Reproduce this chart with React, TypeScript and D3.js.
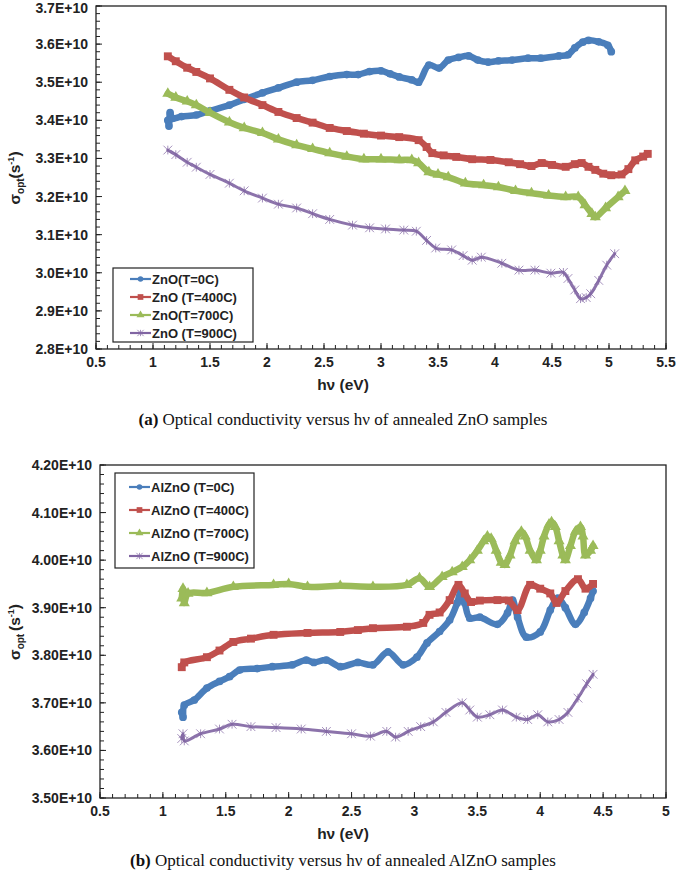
import React from 'react';
import * as d3 from 'd3';

// ---------- Data (values in units of 1E+10 s^-1) ----------
const znoT0: [number, number][] = [
  [1.13, 3.40], [1.14, 3.385], [1.15, 3.42], [1.17, 3.405], [1.25, 3.41], [1.38, 3.414], [1.5, 3.425],
  [1.67, 3.44], [1.8, 3.455], [1.96, 3.472], [2.1, 3.485], [2.26, 3.50], [2.4, 3.505], [2.55, 3.515],
  [2.7, 3.52], [2.8, 3.52], [2.9, 3.528], [3.0, 3.53], [3.08, 3.522], [3.16, 3.514], [3.27, 3.506],
  [3.33, 3.50], [3.42, 3.545], [3.51, 3.537], [3.59, 3.558], [3.68, 3.565], [3.77, 3.569], [3.85, 3.558],
  [3.94, 3.553], [4.03, 3.556], [4.15, 3.558], [4.29, 3.563], [4.4, 3.563], [4.56, 3.569], [4.64, 3.572],
  [4.7, 3.59], [4.77, 3.605], [4.82, 3.61], [4.91, 3.606], [4.99, 3.597], [5.02, 3.58],
];
const znoT400: [number, number][] = [
  [1.13, 3.568], [1.2, 3.555], [1.3, 3.538], [1.38, 3.527], [1.5, 3.51], [1.67, 3.48], [1.8, 3.46],
  [1.96, 3.44], [2.1, 3.422], [2.26, 3.406], [2.4, 3.394], [2.55, 3.38], [2.7, 3.372], [2.85, 3.365],
  [3.0, 3.36], [3.16, 3.356], [3.33, 3.348], [3.4, 3.33], [3.45, 3.314], [3.55, 3.308], [3.66, 3.304],
  [3.8, 3.298], [3.96, 3.296], [4.12, 3.29], [4.22, 3.285], [4.32, 3.28], [4.41, 3.288], [4.5, 3.283],
  [4.62, 3.278], [4.7, 3.285], [4.76, 3.288], [4.82, 3.278], [4.88, 3.27], [4.95, 3.26], [5.02, 3.256],
  [5.11, 3.258], [5.17, 3.272], [5.23, 3.295], [5.3, 3.305], [5.34, 3.312],
];
const znoT700: [number, number][] = [
  [1.13, 3.47], [1.2, 3.46], [1.3, 3.45], [1.38, 3.44], [1.5, 3.42], [1.67, 3.395], [1.8, 3.38],
  [1.96, 3.367], [2.1, 3.35], [2.26, 3.335], [2.4, 3.325], [2.55, 3.314], [2.7, 3.305], [2.85, 3.298],
  [3.0, 3.298], [3.16, 3.296], [3.27, 3.296], [3.33, 3.288], [3.42, 3.264], [3.5, 3.258], [3.59, 3.251],
  [3.74, 3.235], [3.9, 3.23], [4.03, 3.225], [4.18, 3.215], [4.32, 3.209], [4.47, 3.203], [4.62, 3.199],
  [4.73, 3.199], [4.79, 3.178], [4.85, 3.155], [4.88, 3.146], [4.97, 3.17], [5.08, 3.199], [5.14, 3.215],
];
const znoT900: [number, number][] = [
  [1.13, 3.322], [1.2, 3.31], [1.3, 3.29], [1.38, 3.277], [1.5, 3.258], [1.67, 3.235], [1.8, 3.215],
  [1.96, 3.196], [2.1, 3.18], [2.26, 3.17], [2.4, 3.155], [2.55, 3.14], [2.75, 3.125], [2.9, 3.118],
  [3.04, 3.115], [3.2, 3.112], [3.31, 3.109], [3.4, 3.085], [3.48, 3.065], [3.62, 3.06], [3.72, 3.045],
  [3.8, 3.033], [3.88, 3.041], [4.06, 3.025], [4.21, 3.007], [4.35, 3.007], [4.49, 2.999], [4.6, 3.001],
  [4.64, 2.985], [4.7, 2.955], [4.75, 2.932], [4.8, 2.935], [4.84, 2.945], [4.91, 2.98], [4.98, 3.02],
  [5.05, 3.05],
];

const alznoT0: [number, number][] = [
  [1.15, 3.68], [1.16, 3.67], [1.17, 3.695], [1.25, 3.706], [1.35, 3.731], [1.45, 3.745], [1.53, 3.755],
  [1.61, 3.769], [1.75, 3.772], [1.87, 3.776], [2.03, 3.78], [2.14, 3.79], [2.2, 3.785], [2.3, 3.79],
  [2.41, 3.776], [2.55, 3.785], [2.67, 3.78], [2.79, 3.807], [2.91, 3.78], [3.02, 3.796], [3.1, 3.826],
  [3.2, 3.85], [3.28, 3.874], [3.34, 3.91], [3.37, 3.935], [3.4, 3.91], [3.44, 3.878], [3.52, 3.88],
  [3.66, 3.865], [3.74, 3.889], [3.78, 3.916], [3.82, 3.88], [3.89, 3.838], [4.0, 3.849], [4.08, 3.895],
  [4.14, 3.92], [4.2, 3.90], [4.28, 3.865], [4.35, 3.89], [4.4, 3.92], [4.42, 3.935],
];
const alznoT400: [number, number][] = [
  [1.15, 3.775], [1.17, 3.785], [1.35, 3.796], [1.45, 3.81], [1.56, 3.828], [1.7, 3.835], [1.88, 3.843],
  [2.15, 3.847], [2.41, 3.849], [2.55, 3.853], [2.67, 3.857], [2.94, 3.86], [3.07, 3.868], [3.12, 3.885],
  [3.2, 3.89], [3.28, 3.916], [3.35, 3.948], [3.4, 3.93], [3.45, 3.912], [3.52, 3.915], [3.66, 3.916],
  [3.75, 3.915], [3.82, 3.895], [3.92, 3.948], [4.0, 3.94], [4.08, 3.93], [4.13, 3.91], [4.2, 3.935],
  [4.3, 3.96], [4.36, 3.94], [4.42, 3.95],
];
const alznoT700: [number, number][] = [
  [1.15, 3.92], [1.16, 3.94], [1.17, 3.91], [1.2, 3.93], [1.35, 3.931], [1.56, 3.944], [1.88, 3.948],
  [2.0, 3.95], [2.15, 3.944], [2.41, 3.946], [2.67, 3.944], [2.94, 3.948], [3.04, 3.962], [3.12, 3.944],
  [3.22, 3.965], [3.3, 3.975], [3.38, 3.986], [3.44, 4.0], [3.5, 4.02], [3.55, 4.04], [3.58, 4.05],
  [3.61, 4.045], [3.65, 4.02], [3.69, 3.995], [3.72, 3.99], [3.76, 4.01], [3.8, 4.04], [3.85, 4.06],
  [3.88, 4.05], [3.92, 4.02], [3.97, 4.0], [4.0, 4.02], [4.03, 4.05], [4.07, 4.075], [4.09, 4.08],
  [4.12, 4.07], [4.15, 4.04], [4.18, 4.01], [4.2, 4.0], [4.24, 4.03], [4.28, 4.06], [4.32, 4.07],
  [4.34, 4.05], [4.36, 4.01], [4.4, 4.02], [4.42, 4.03],
];
const alznoT900: [number, number][] = [
  [1.15, 3.625], [1.16, 3.635], [1.17, 3.62], [1.3, 3.635], [1.45, 3.645], [1.55, 3.655], [1.7, 3.65],
  [1.9, 3.648], [2.1, 3.645], [2.3, 3.64], [2.5, 3.635], [2.65, 3.63], [2.78, 3.64], [2.85, 3.628],
  [2.95, 3.64], [3.05, 3.65], [3.15, 3.66], [3.25, 3.68], [3.38, 3.70], [3.44, 3.685], [3.5, 3.67],
  [3.6, 3.675], [3.7, 3.685], [3.81, 3.67], [3.9, 3.665], [3.98, 3.675], [4.06, 3.66], [4.15, 3.665],
  [4.22, 3.68], [4.3, 3.71], [4.37, 3.74], [4.42, 3.76],
];

const topXTicks = [0.5, 1, 1.5, 2, 2.5, 3, 3.5, 4, 4.5, 5, 5.5];
const topYTicks = [2.8, 2.9, 3.0, 3.1, 3.2, 3.3, 3.4, 3.5, 3.6, 3.7];
const botXTicks = [0.5, 1, 1.5, 2, 2.5, 3, 3.5, 4, 4.5, 5];
const botYTicks = [3.5, 3.6, 3.7, 3.8, 3.9, 4.0, 4.1, 4.2];

const topNames = ['ZnO(T=0C)', 'ZnO (T=400C)', 'ZnO(T=700C)', 'ZnO (T=900C)'];
const botNames = ['AlZnO (T=0C)', 'AlZnO (T=400C)', 'AlZnO (T=700C)', 'AlZnO (T=900C)'];

const COLORS = ['#4A7EBB', '#C0504D', '#9BBB59', '#8064A2'];
const MARKERS = ['circle', 'square', 'triangle', 'star'];

const FONT = "'Liberation Sans', Arial, sans-serif";

function Marker({ kind, x, y, color, s = 1 }: { kind: string; x: number; y: number; color: string; s?: number }) {
  if (kind === 'star') {
    const r = 3.5 * s;
    return (
      <g stroke={color} strokeWidth={1} opacity={0.7}>
        <line x1={x - r} y1={y - r} x2={x + r} y2={y + r} />
        <line x1={x - r} y1={y + r} x2={x + r} y2={y - r} />
        <line x1={x} y1={y - r} x2={x} y2={y + r} />
      </g>
    );
  }
  const type = kind === 'circle' ? d3.symbolCircle : kind === 'square' ? d3.symbolSquare : d3.symbolTriangle;
  const size = kind === 'circle' ? 30 : kind === 'square' ? 40 : 34;
  const p = d3.symbol().type(type).size(size * s * s)();
  return <path d={p || ''} transform={`translate(${x},${y})`} fill={color} />;
}

interface PanelProps {
  series: [number, number][][];
  names: string[];
  xDomain: [number, number];
  yDomain: [number, number];
  left: number; right: number; top: number; bottom: number;
  xTicks: number[]; yTicks: number[];
  yFmt: (v: number) => string;
  legend: { x: number; y: number; w: number; h: number; rowY: number[]; lineX0: number; lineX1: number };
  titleY: number;
  yTitleCy: number;
  opt: string;
}

function Panel(p: PanelProps) {
  const x = d3.scaleLinear().domain(p.xDomain).range([p.left, p.right]);
  const y = d3.scaleLinear().domain(p.yDomain).range([p.bottom, p.top]);
  const line = d3.line<[number, number]>().x(d => x(d[0])).y(d => y(d[1])).curve(d3.curveCatmullRom.alpha(0.5));
  const xMinor = d3.range(p.xDomain[0], p.xDomain[1] + 1e-9, 0.1);
  const yMinor = d3.range(p.yDomain[0], p.yDomain[1] + 1e-9, 0.02);
  return (
    <g>
      {/* data */}
      {p.series.map((s, i) => (
        <g key={i}>
          <path d={line(s) || ''} fill="none" stroke={COLORS[i]} strokeWidth={i === 3 ? 3 : 6.5}
            strokeLinejoin="round" strokeLinecap="round" opacity={i === 3 ? 0.9 : 1} />
          {s.map((d, j) => (
            <Marker key={j} kind={MARKERS[i]} x={x(d[0])} y={y(d[1])} color={COLORS[i]} s={1.25} />
          ))}
        </g>
      ))}
      {/* frame */}
      <rect x={p.left} y={p.top} width={p.right - p.left} height={p.bottom - p.top} fill="none" stroke="#222" strokeWidth={1.3} />
      {/* minor ticks */}
      {xMinor.map((t, i) => (
        <line key={'xm' + i} x1={x(t)} x2={x(t)} y1={p.bottom} y2={p.bottom - 4} stroke="#222" strokeWidth={1} />
      ))}
      {yMinor.map((t, i) => (
        <line key={'ym' + i} x1={p.left} x2={p.left + 4} y1={y(t)} y2={y(t)} stroke="#222" strokeWidth={1} />
      ))}
      {/* major tick labels */}
      {p.xTicks.map((t, i) => (
        <g key={'xt' + i}>
          <line x1={x(t)} x2={x(t)} y1={p.bottom} y2={p.bottom - 6} stroke="#222" strokeWidth={1} />
          <text x={x(t)} y={p.bottom + 18} textAnchor="middle" fontFamily={FONT} fontWeight="bold" fontSize={14} fill="#222">
            {String(t)}
          </text>
        </g>
      ))}
      {p.yTicks.map((t, i) => (
        <g key={'yt' + i}>
          <line x1={p.left} x2={p.left + 6} y1={y(t)} y2={y(t)} stroke="#222" strokeWidth={1} />
          <text x={p.left - 8} y={Math.max(y(t) + 5, 12.5)} textAnchor="end" fontFamily={FONT} fontWeight="bold" fontSize={14} fill="#222">
            {p.yFmt(t)}
          </text>
        </g>
      ))}
      {/* x title */}
      <text x={343} y={p.titleY} textAnchor="middle" fontFamily={FONT} fontWeight="bold" fontSize={15.5} fill="#222">
        hν (eV)
      </text>
      {/* y title */}
      <text transform={`translate(20,${p.yTitleCy}) rotate(-90)`} textAnchor="middle" fontFamily={FONT} fontWeight="bold" fontSize={15.5} fill="#222">
        σ<tspan fontSize={10} dy={4}>{p.opt}</tspan><tspan dy={-4}>(s</tspan><tspan fontSize={9} dy={-6}>-1</tspan><tspan dy={6}>)</tspan>
      </text>
      {/* legend */}
      <rect x={p.legend.x} y={p.legend.y} width={p.legend.w} height={p.legend.h} fill="#fff" stroke="#222" strokeWidth={1.2} />
      {p.names.map((n, i) => {
        const ry = p.legend.rowY[i];
        const cx = (p.legend.lineX0 + p.legend.lineX1) / 2;
        return (
          <g key={'lg' + i}>
            <line x1={p.legend.lineX0} x2={p.legend.lineX1} y1={ry} y2={ry} stroke={COLORS[i]} strokeWidth={2.2} />
            <Marker kind={MARKERS[i]} x={cx} y={ry} color={COLORS[i]} s={0.9} />
            <text x={p.legend.lineX1 + 1} y={ry + 4.5} fontFamily={FONT} fontWeight="bold" fontSize={13} fill="#222">{n}</text>
          </g>
        );
      })}
    </g>
  );
}

export default function App() {
  return (
    <svg width={685} height={878} style={{ position: 'absolute', left: 0, top: 0, background: '#fff' }}>
      <rect width={685} height={878} fill="#fff" />
      <Panel
        series={[znoT0, znoT400, znoT700, znoT900]}
        names={topNames}
        xDomain={[0.5, 5.5]} yDomain={[2.8, 3.7]}
        left={96} right={666} top={6} bottom={349}
        xTicks={topXTicks} yTicks={topYTicks}
        yFmt={v => v.toFixed(1) + 'E+10'}
        legend={{ x: 113, y: 268, w: 140, h: 74, rowY: [279, 297, 315, 333], lineX0: 130, lineX1: 151 }}
        titleY={390}
        yTitleCy={178}
        opt="opt"
      />
      <Panel
        series={[alznoT0, alznoT400, alznoT700, alznoT900]}
        names={botNames}
        xDomain={[0.5, 5]} yDomain={[3.5, 4.2]}
        left={100} right={666} top={465} bottom={798}
        xTicks={botXTicks} yTicks={botYTicks}
        yFmt={v => v.toFixed(2) + 'E+10'}
        legend={{ x: 115, y: 473, w: 139, h: 95, rowY: [487, 510, 533, 556], lineX0: 129, lineX1: 150 }}
        titleY={839}
        yTitleCy={632}
        opt="opt "
      />
      <text x={343} y={425} textAnchor="middle" fontFamily="'Liberation Serif', 'Times New Roman', serif" fontSize={17} fill="#111">
        <tspan fontWeight="bold">(a)</tspan> Optical conductivity versus hν of annealed ZnO samples
      </text>
      <text x={343} y={866} textAnchor="middle" fontFamily="'Liberation Serif', 'Times New Roman', serif" fontSize={17} fill="#111">
        <tspan fontWeight="bold">(b)</tspan> Optical conductivity versus hν of annealed AlZnO samples
      </text>
    </svg>
  );
}
